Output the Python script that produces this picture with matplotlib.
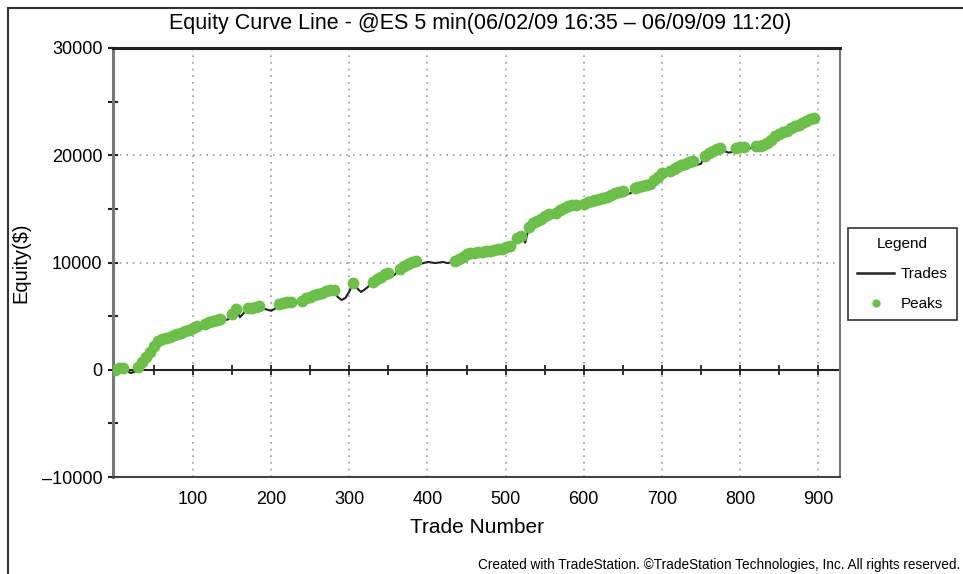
import matplotlib
matplotlib.use("Agg")
import matplotlib.pyplot as plt
from matplotlib.lines import Line2D
import numpy as np

plt.rcParams['font.family'] = ['Liberation Sans', 'DejaVu Sans']

# equity after each block of 5 trades
trade_no = list(range(0, 900, 5))
equity = [
    0, 150, 200, -100, -300, -200, 250, 700, 1200, 1700,
    2200, 2650, 2900, 3000, 3100, 3250, 3350, 3450, 3600, 3750,
    3900, 4100, 4000, 4300, 4450, 4550, 4650, 4750, 4600, 4700,
    5200, 5700, 4900, 5300, 5750, 5800, 5850, 5900, 5700, 5600,
    5500, 5700, 6100, 6200, 6300, 6350, 6200, 6250, 6450, 6650,
    6800, 6950, 7100, 7200, 7300, 7400, 7450, 6800, 6500, 6700,
    7300, 8100, 7600, 7250, 7500, 7800, 8200, 8450, 8650, 8900,
    9050, 8700, 9000, 9350, 9650, 9850, 10050, 10100, 9850, 9950,
    10050, 10000, 9950, 10000, 10050, 9950, 10000, 10150, 10350, 10550,
    10750, 10850, 10900, 10950, 11000, 11050, 11100, 11150, 11250, 11300,
    11400, 11500, 11300, 12300, 12500, 11850, 13300, 13700, 13900, 14100,
    14350, 14500, 14200, 14600, 14900, 15100, 15250, 15350, 15400, 15150,
    15500, 15600, 15700, 15800, 15900, 16000, 16150, 16300, 16450, 16550,
    16650, 16400, 16450, 16900, 17050, 17150, 17250, 17350, 17650, 18000,
    18350, 18200, 18500, 18750, 18900, 19050, 19200, 19350, 19450, 19100,
    19200, 19900, 20250, 20400, 20550, 20650, 20400, 20250, 20300, 20700,
    20750, 20800, 20600, 20700, 20850, 20900, 20950, 21100, 21400, 21800,
    22000, 22150, 22300, 22500, 22700, 22850, 23000, 23200, 23350, 23500,
]

x_labels = [100, 200, 300, 400, 500, 600, 700, 800, 900]
y_labels = [30000, 20000, 10000, 0, -10000]

trade_no = np.array(trade_no)
equity = np.array(equity)
# a peak is a trade where the equity reaches a new high
peak = equity >= np.maximum.accumulate(equity)

fig = plt.figure(figsize=(9.63, 5.74), dpi=100)
ax = fig.add_axes([113/963, 1-477/574, 727/963, 429/574])

ax.set_xlim(-2.5, 928)
ax.set_ylim(-10000, 30000)

# grid
for v in x_labels:
    ax.axvline(v, color='#999999', lw=1.2, ls=(0, (1, 3)), zorder=1)
for v in [10000, 20000]:
    ax.axhline(v, color='#999999', lw=1.2, ls=(0, (1, 3)), zorder=1)
ax.axhline(0, color='#222222', lw=1.5, zorder=2)

ax.plot(trade_no, equity, color='#222222', lw=1.5, zorder=3)
ax.plot(trade_no[peak], equity[peak], 'o', color='#6cc04a', ms=7.5,
        mec='#6cc04a', zorder=4)

ax.set_xticks(x_labels)
ax.set_xticklabels([str(v) for v in x_labels])
ax.set_yticks(np.arange(-10000, 30001, 5000), minor=True)
ax.set_yticks(y_labels)
ax.set_yticklabels([str(v).replace('-', '\u2013') for v in y_labels])
ax.tick_params(axis='x', length=0, pad=10, labelsize=13)
ax.tick_params(axis='y', which='both', direction='inout', length=7,
               width=1.5, color='#222222', pad=4, labelsize=13)
ax.tick_params(axis='y', which='minor', length=7)

# small ticks along the zero line
ax2 = ax.twiny()
ax2.set_xlim(ax.get_xlim())
ax2.spines['bottom'].set_position(('data', 0))
ax2.spines['bottom'].set_visible(False)
for s in ['top', 'left', 'right']:
    ax2.spines[s].set_visible(False)
ax2.xaxis.set_ticks_position('bottom')
ax2.set_xticks(np.arange(50, 901, 50))
ax2.tick_params(axis='x', direction='inout', length=7, width=1.3,
                color='#222222', labelbottom=False, labeltop=False)

ax.spines['top'].set_color('#222222')
ax.spines['top'].set_linewidth(2.2)
ax.spines['left'].set_color('#777777')
ax.spines['left'].set_linewidth(2.2)
ax.spines['right'].set_color('#777777')
ax.spines['right'].set_linewidth(1.5)
ax.spines['bottom'].set_color('#444444')
ax.spines['bottom'].set_linewidth(1.5)

ax.set_xlabel('Trade Number', fontsize=15, labelpad=7)
ax.set_ylabel('Equity($)', fontsize=14.5, labelpad=8)

fig.text(480/963, 1-23/574,
         'Equity Curve Line - @ES 5 min(06/02/09 16:35 \u2013 06/09/09 11:20)',
         ha='center', va='center', fontsize=15.5)
fig.text(960/963, 1-565/574,
         'Created with TradeStation. \u00a9TradeStation Technologies, Inc. All rights reserved.',
         ha='right', va='center', fontsize=9.8)

# outer frame
fig.add_artist(Line2D([8/963, 8/963], [0, 1-8/574], color='#333333', lw=1.5))
fig.add_artist(Line2D([8/963, 1], [1-8/574, 1-8/574], color='#333333', lw=1.5))

handles = [Line2D([], [], color='#222222', lw=1.8),
           Line2D([], [], ls='none', marker='o', color='#6cc04a', ms=5)]
leg = fig.legend(handles, ['Trades', 'Peaks'], title='Legend',
                 loc='upper left', bbox_to_anchor=(848/963, 1-228/574),
                 fontsize=11, title_fontsize=11, handlelength=2.4,
                 handletextpad=0.45, frameon=True, fancybox=False,
                 edgecolor='black', borderpad=0.6, labelspacing=1.05,
                 borderaxespad=0)
leg.get_frame().set_linewidth(1.2)

fig.savefig('out.png', dpi=100)
